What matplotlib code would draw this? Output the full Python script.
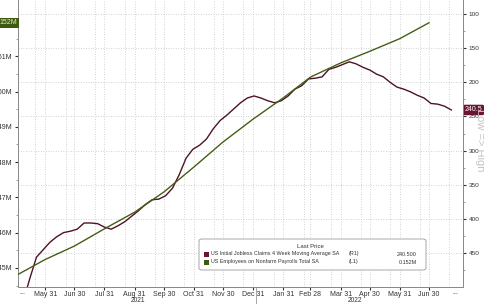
import matplotlib
matplotlib.use("Agg")
import matplotlib.pyplot as plt
import matplotlib.transforms as mtransforms
from matplotlib.patches import FancyBboxPatch, Rectangle
import pandas as pd

plt.rcParams['font.family'] = ['Liberation Sans', 'DejaVu Sans']

MAROON = "#4e1229"
MAROON_TAG = "#6a1532"
GREEN = "#435f14"
GREEN_TAG = "#3e5a10"
GRID = "#c4c4c4"
SPINE = "#8a8a8a"
TXT = "#333333"

# US Employees on Nonfarm Payrolls Total SA (millions), month ends
payroll_dates = pd.date_range("2021-04-30", "2022-06-30", freq="ME")
payrolls = [144.77, 145.24, 145.62, 146.11, 146.58, 147.15, 147.86, 148.57,
            149.22, 149.82, 150.41, 150.81, 151.14, 151.50, 151.95]

# US Initial Jobless Claims 4 week moving average SA (thousands), weekly
claims_dates = pd.date_range("2021-05-08", "2022-07-23", freq="7D")
claims = [523, 488, 456, 445, 434, 426, 420, 418, 415, 406, 406, 407, 412, 415,
          410, 404, 396, 388, 379, 372, 371, 366, 355, 335, 311, 298, 292, 283,
          268, 256, 248, 239, 230, 223, 220, 223, 227, 230, 227, 220, 210, 205,
          195, 194, 192, 181, 178, 174, 170, 173, 178, 182, 188, 192, 200, 207,
          210, 214, 219, 223, 231, 232, 235, 240.5]

month_ticks = pd.date_range("2021-05-31", "2022-06-30", freq="ME")
month_labels = [f"{d:%b} {d.day}" for d in month_ticks]
minor_ticks = pd.date_range("2021-05-01", "2022-07-01", freq="MS") + pd.Timedelta(days=20)
claims_ticks = [100, 150, 200, 250, 300, 350, 400, 450]
claims_minor = [125, 175, 225, 275, 325, 375, 425, 475]
payroll_ticks = [145, 146, 147, 148, 149, 150, 151]
payroll_labels = [f"{v}M" for v in payroll_ticks]
payroll_minor = [144.5, 145.5, 146.5, 147.5, 148.5, 149.5, 150.5, 151.5, 152]

fig = plt.figure(figsize=(4.85, 3.04), dpi=100)
ax = fig.add_axes([18 / 485, 17 / 304, 445 / 485, 287 / 304])
ax2 = ax.twinx()

# claims: right axis, inverted
ax.plot(claims_dates, claims, color=MAROON, lw=1.0, zorder=3)
ax.set_ylim(499.7, 79.5)
ax.yaxis.tick_right()
ax.set_yticks(claims_ticks)
ax.set_yticks(claims_minor, minor=True)
ax.set_xlim(pd.Timestamp("2021-05-03"), pd.Timestamp("2022-08-04"))
ax.set_xticks(month_ticks)
ax.set_xticklabels(month_labels)
ax.set_xticks(minor_ticks, minor=True)
ax.grid(axis="y", which="major", color=GRID, ls=(0, (1, 2)), lw=0.6)
ax.grid(axis="x", which="both", color=GRID, ls=(0, (1, 2)), lw=0.6)
ax.tick_params(axis="y", which="major", labelsize=4.6, colors=TXT, length=2.5, pad=1.5)
ax.tick_params(axis="y", which="minor", length=1.5, color=SPINE)
ax.tick_params(axis="x", which="major", labelsize=5, colors=TXT, length=2, pad=1)
ax.tick_params(axis="x", which="minor", length=0)

# payrolls: left axis
ax2.plot(payroll_dates, payrolls, color=GREEN, lw=1.0, zorder=3)
ax2.set_ylim(144.46, 152.595)
ax2.yaxis.tick_left()
ax2.set_yticks(payroll_ticks)
ax2.set_yticklabels(payroll_labels)
ax2.set_yticks(payroll_minor, minor=True)
ax2.tick_params(axis="y", which="major", labelsize=5, colors=TXT, length=2.5, pad=1.5)
ax2.tick_params(axis="y", which="minor", length=1.5, color=SPINE)

for a in (ax, ax2):
    a.spines["top"].set_visible(False)
    for s in ("left", "right", "bottom"):
        a.spines[s].set_color(SPINE)
        a.spines[s].set_linewidth(0.7)

# last value tags
ytr2 = mtransforms.blended_transform_factory(ax2.transAxes, ax2.transData)
ax2.text(-0.002, payrolls[-1], "152M", transform=ytr2, ha="right", va="center",
         fontsize=5, color="#e6edcc", clip_on=False,
         bbox=dict(boxstyle="square,pad=0.25", fc=GREEN_TAG, ec="none"))
ytr = mtransforms.blended_transform_factory(ax.transAxes, ax.transData)
ax.text(1.004, claims[-1], "240.5", transform=ytr, ha="left", va="center",
        fontsize=5, color="white", clip_on=False, zorder=5,
        bbox=dict(boxstyle="round,pad=0.25", fc=MAROON_TAG, ec="none"))

# faint rotated note on the right edge
fig.text(480 / 485, 1 - 140 / 304, "Low => High", rotation=270, ha="center",
         va="center", fontsize=8, color="#c4c4c4", zorder=0)

# year labels and separators
xtr = mtransforms.blended_transform_factory(ax.transData, ax.transAxes)
ax.text(pd.Timestamp("2021-09-03"), -0.046, "2021", transform=xtr, ha="center",
        va="center", fontsize=4.8, color=TXT)
ax.text(pd.Timestamp("2022-04-15"), -0.046, "2022", transform=xtr, ha="center",
        va="center", fontsize=4.8, color=TXT)
ax.plot([pd.Timestamp("2022-01-03")] * 2, [0, -0.06], transform=xtr,
        color="#999999", lw=0.6, clip_on=False)
ax.text(0.009, -0.02, "...", transform=ax.transAxes, ha="center", va="center",
        fontsize=5, color=TXT)
ax.text(0.982, -0.02, "...", transform=ax.transAxes, ha="center", va="center",
        fontsize=5, color=TXT)

# legend box
box = FancyBboxPatch((199 / 485, 1 - 270 / 304), 227 / 485, 31 / 304,
                     boxstyle="round,pad=0,rounding_size=0.006",
                     transform=fig.transFigure, fc="white", ec="#9a9a9a", lw=0.6,
                     zorder=10)
fig.patches.append(box)
fig.text(310 / 485, 1 - 246 / 304, "Last Price", ha="center", va="center",
         fontsize=4.3, color=TXT, zorder=11)
rows = [
    ("US Initial Jobless Claims 4 Week Moving Average SA", "(R1)", "240.500", MAROON_TAG, 254),
    ("US Employees on Nonfarm Payrolls Total SA", "(L1)", "0.152M", GREEN_TAG, 262),
]
for name, side, val, col, ypix in rows:
    y = 1 - ypix / 304
    fig.patches.append(Rectangle((204 / 485, y - 2.5 / 304), 5 / 485, 5 / 304,
                                 transform=fig.transFigure, fc=col, ec="none",
                                 zorder=11))
    fig.text(211 / 485, y, name, ha="left", va="center", fontsize=3.9,
             color=TXT, zorder=11)
    fig.text(349 / 485, y, side, ha="left", va="center", fontsize=3.9,
             color=TXT, zorder=11)
    fig.text(417 / 485, y, val, ha="right", va="center", fontsize=3.9,
             color=TXT, zorder=11)

fig.savefig("out.png", dpi=100)
